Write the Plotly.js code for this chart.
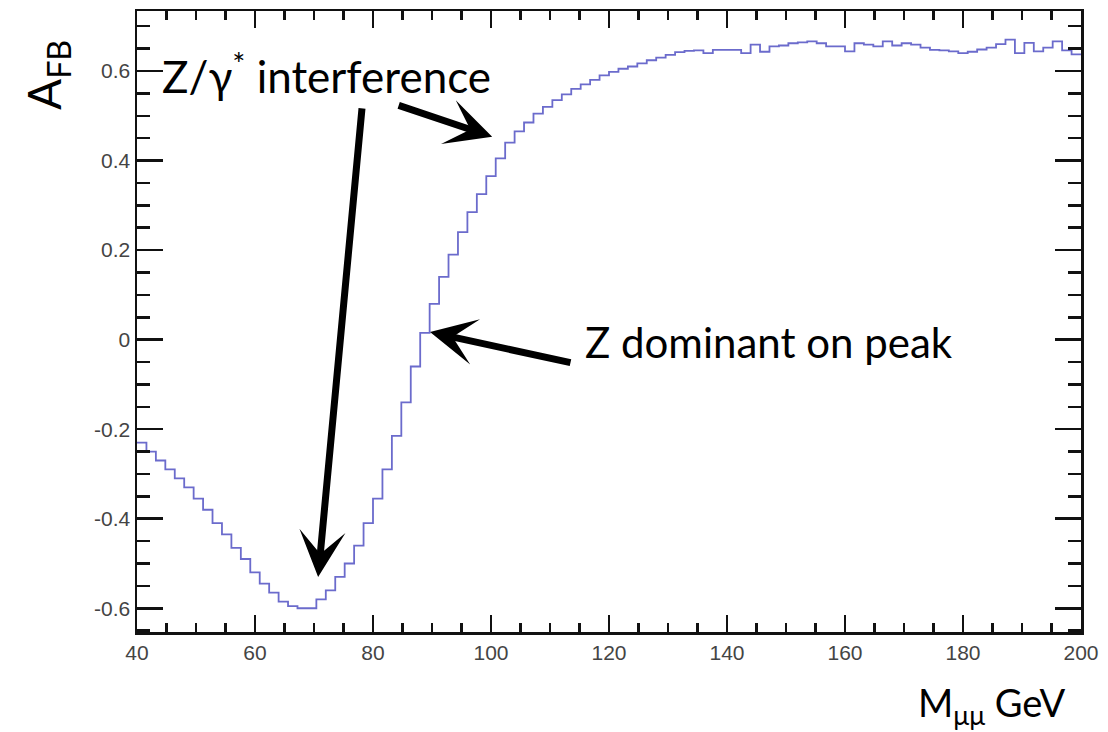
<!DOCTYPE html>
<html>
<head>
<meta charset="utf-8">
<script src="https://cdn.plot.ly/plotly-3.0.1.min.js"></script>
<style>html,body{margin:0;padding:0;background:#fff;}#chart{width:1108px;height:732px;}</style>
</head>
<body>
<div id="chart"></div>
<script>
// Histogram: 100 bins of 1.6 GeV from 40 to 200 GeV (bin centres)
const binCenters = [
  40.8,42.4,44.0,45.6,47.2,48.8,50.4,52.0,53.6,55.2,
  56.8,58.4,60.0,61.6,63.2,64.8,66.4,68.0,69.6,71.2,
  72.8,74.4,76.0,77.6,79.2,80.8,82.4,84.0,85.6,87.2,
  88.8,90.4,92.0,93.6,95.2,96.8,98.4,100.0,101.6,103.2,
  104.8,106.4,108.0,109.6,111.2,112.8,114.4,116.0,117.6,119.2,
  120.8,122.4,124.0,125.6,127.2,128.8,130.4,132.0,133.6,135.2,
  136.8,138.4,140.0,141.6,143.2,144.8,146.4,148.0,149.6,151.2,
  152.8,154.4,156.0,157.6,159.2,160.8,162.4,164.0,165.6,167.2,
  168.8,170.4,172.0,173.6,175.2,176.8,178.4,180.0,181.6,183.2,
  184.8,186.4,188.0,189.6,191.2,192.8,194.4,196.0,197.6,199.2
];
const binWidth = 1.6;
const afb = [
  -0.23,-0.25,-0.27,-0.29,-0.31,-0.33,-0.355,-0.38,-0.41,-0.435,
  -0.465,-0.49,-0.52,-0.545,-0.565,-0.585,-0.595,-0.60,-0.60,-0.58,
  -0.56,-0.53,-0.50,-0.46,-0.41,-0.355,-0.29,-0.215,-0.14,-0.06,
  0.015,0.08,0.14,0.19,0.24,0.285,0.325,0.365,0.405,0.44,
  0.465,0.485,0.505,0.52,0.535,0.548,0.56,0.57,0.58,0.59,
  0.598,0.605,0.61,0.617,0.624,0.63,0.636,0.642,0.645,0.646,
  0.64,0.647,0.647,0.647,0.64,0.659,0.643,0.655,0.657,0.662,
  0.664,0.666,0.662,0.655,0.655,0.644,0.662,0.659,0.655,0.666,
  0.657,0.662,0.659,0.652,0.647,0.646,0.644,0.64,0.643,0.648,
  0.652,0.66,0.67,0.64,0.663,0.644,0.652,0.666,0.646,0.637
];
const yTickVals = [-0.6,-0.4,-0.2,0,0.2,0.4,0.6];
const yTickText = ["-0.6","-0.4","-0.2","0","0.2","0.4","0.6"];
const xTickVals = [40,60,80,100,120,140,160,180,200];
const xTickText = ["40","60","80","100","120","140","160","180","200"];

// step outline from bin edges
const edges = binCenters.map(c => c - binWidth/2);
edges.push(binCenters[binCenters.length-1] + binWidth/2);
const stepY = afb.slice(); stepY.push(afb[afb.length-1]);

const trace = {
  x: edges, y: stepY, type: 'scatter', mode: 'lines',
  line: {shape: 'hv', color: '#6b6bcc', width: 1.8},
  hoverinfo: 'skip', showlegend: false
};

const tickFont = {family: 'Liberation Sans, Arial, sans-serif', size: 21, color: '#444'};
const annFont = 'Lato, "Open Sans", sans-serif';

const layout = {
  width: 1108, height: 732,
  margin: {l: 137, r: 27, t: 11, b: 100},
  paper_bgcolor: '#fff', plot_bgcolor: '#fff',
  showlegend: false,
  xaxis: {
    range: [40, 200], tickmode: 'array', tickvals: xTickVals, ticktext: xTickText,
    ticks: 'inside', ticklen: 17, tickwidth: 2.5, tickcolor: '#111',
    showline: true, linewidth: 2.5, linecolor: '#111', mirror: 'allticks',
    showgrid: false, zeroline: false, tickfont: tickFont,
    minor: {tickmode: 'linear', tick0: 40, dtick: 5, ticks: 'inside', ticklen: 9, tickwidth: 2.5, tickcolor: '#111', showgrid: false}
  },
  yaxis: {
    range: [-0.653, 0.734], tickmode: 'array', tickvals: yTickVals, ticktext: yTickText,
    ticks: 'inside', ticklen: 26, tickwidth: 2.5, tickcolor: '#111',
    showline: true, linewidth: 2.5, linecolor: '#111', mirror: 'allticks',
    showgrid: false, zeroline: false, tickfont: tickFont,
    minor: {tickmode: 'linear', tick0: 0, dtick: 0.05, ticks: 'inside', ticklen: 13, tickwidth: 2.5, tickcolor: '#111', showgrid: false}
  },
  annotations: [
    {xref: 'paper', yref: 'paper', x: -0.0953, y: 0.897, xanchor: 'center', yanchor: 'middle', textangle: -90,
     text: 'A<sub>FB</sub>', showarrow: false, font: {family: annFont, size: 46, color: '#000'}},
    {xref: 'paper', yref: 'paper', x: 0.906, y: -0.118, xanchor: 'center', yanchor: 'middle',
     text: 'M<sub>μμ</sub> GeV', showarrow: false, font: {family: annFont, size: 38, color: '#000'}},
    {xref: 'paper', yref: 'paper', x: 0.0244, y: 0.900, xanchor: 'left', yanchor: 'middle',
     text: 'Z/γ<sup>*</sup> interference', showarrow: false, font: {family: annFont, size: 44, color: '#000'}},
    {xref: 'paper', yref: 'paper', x: 0.4725, y: 0.467, xanchor: 'left', yanchor: 'middle',
     text: 'Z dominant on peak', showarrow: false, font: {family: annFont, size: 42, color: '#000'}},
    {xref: 'x', yref: 'y', x: 70.7, y: -0.53, ax: 44, ay: -470, text: '',
     showarrow: true, arrowhead: 3, arrowsize: 1.1, arrowwidth: 7, arrowcolor: '#000', standoff: 0},
    {xref: 'x', yref: 'y', x: 100.2, y: 0.453, ax: -95, ay: -32, text: '',
     showarrow: true, arrowhead: 3, arrowsize: 1.1, arrowwidth: 7, arrowcolor: '#000', standoff: 0},
    {xref: 'x', yref: 'y', x: 89.66, y: 0.017, ax: 142, ay: 31, text: '',
     showarrow: true, arrowhead: 3, arrowsize: 1.1, arrowwidth: 7, arrowcolor: '#000', standoff: 0}
  ]
};

Plotly.newPlot('chart', [trace], layout, {displayModeBar: false, staticPlot: true});
</script>
</body>
</html>
